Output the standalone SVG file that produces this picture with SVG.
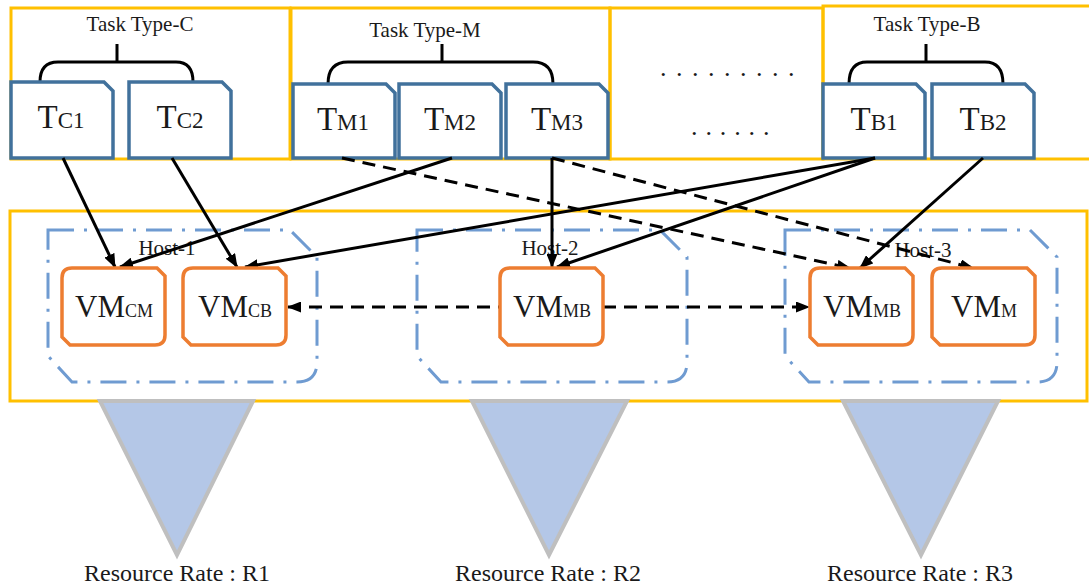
<svg xmlns="http://www.w3.org/2000/svg" width="1089" height="587" viewBox="0 0 1089 587">
<style>
.frame{fill:none;stroke:#FFC000;stroke-width:3}
.task{fill:#fff;stroke:#41719C;stroke-width:3.5;stroke-linejoin:miter}
.vm{fill:#fff;stroke:#ED7D31;stroke-width:3.5}
.host{fill:none;stroke:#6F9BD1;stroke-width:3;stroke-dasharray:26 10 3 10}
.brace{fill:none;stroke:#000;stroke-width:3}
.tri{fill:#B4C7E7;stroke:#BFBFBF;stroke-width:4;stroke-linejoin:miter}
.t{font-family:"Liberation Serif","Times New Roman",serif;fill:#1a1a1a}
.lbl{font-size:21px;text-anchor:middle}
.big{font-size:33px}
.sub{font-size:23px}
.vbig{font-size:31px}
.vsub{font-size:18px}
.rr{font-size:24px;text-anchor:middle}
.c{stroke:#000;stroke-width:3;fill:none}
.d{stroke-dasharray:13 8}
</style>
<defs>
<marker id="ah" viewBox="0 0 14 11" refX="13" refY="5.5" markerWidth="14" markerHeight="11" markerUnits="userSpaceOnUse" orient="auto-start-reverse">
<path d="M0,0 L14,5.5 L0,11 Z" fill="#000"/>
</marker>
</defs>
<rect width="1089" height="587" fill="#fff"/>

<g id="frames">
<rect class="frame" x="11" y="8" width="279" height="151"/>
<rect class="frame" x="291" y="8" width="319" height="151"/>
<rect class="frame" x="610" y="8" width="213" height="151"/>
<rect class="frame" x="823" y="6" width="270" height="153"/>
<rect class="frame" x="10" y="211" width="1077" height="190"/>
</g>

<g id="type-c">
<text class="t lbl" x="140" y="31">Task Type-C</text>
<path class="brace" d="M117,44 V62 M40,82 Q40,62 58,62 H176 Q193,62 193,82"/>
</g>
<g id="type-m">
<text class="t lbl" x="425" y="37">Task Type-M</text>
<path class="brace" d="M442,44 V62 M328,84 Q328,62 348,62 H533 Q553,62 553,84"/>
</g>
<g id="type-b">
<text class="t lbl" x="927" y="31">Task Type-B</text>
<path class="brace" d="M926,44 V62 M849,84 Q849,62 867,62 H985 Q1003,62 1003,84"/>
</g>
<g id="dots">
<text class="t" x="660" y="76" font-size="26" letter-spacing="9.5">.........</text>
<text class="t" x="691" y="135" font-size="26" letter-spacing="7.9">......</text>
</g>

<g id="tc1"><path class="task" d="M11,82 H104 L113,91 V158 H11 Z"/><text class="t" x="61" y="128" text-anchor="middle"><tspan class="big">T</tspan><tspan class="sub">C1</tspan></text></g>
<g id="tc2"><path class="task" d="M129,82 H222 L231,91 V158 H129 Z"/><text class="t" x="180" y="128" text-anchor="middle"><tspan class="big">T</tspan><tspan class="sub">C2</tspan></text></g>
<g id="tm1"><path class="task" d="M293,84 H386 L395,93 V158 H293 Z"/><text class="t" x="343" y="130" text-anchor="middle"><tspan class="big">T</tspan><tspan class="sub">M1</tspan></text></g>
<g id="tm2"><path class="task" d="M399,84 H492 L501,93 V158 H399 Z"/><text class="t" x="450" y="130" text-anchor="middle"><tspan class="big">T</tspan><tspan class="sub">M2</tspan></text></g>
<g id="tm3"><path class="task" d="M506,84 H599 L608,93 V158 H506 Z"/><text class="t" x="557" y="130" text-anchor="middle"><tspan class="big">T</tspan><tspan class="sub">M3</tspan></text></g>
<g id="tb1"><path class="task" d="M823,84 H916 L925,93 V158 H823 Z"/><text class="t" x="874" y="130" text-anchor="middle"><tspan class="big">T</tspan><tspan class="sub">B1</tspan></text></g>
<g id="tb2"><path class="task" d="M932,84 H1025 L1034,93 V158 H932 Z"/><text class="t" x="983" y="130" text-anchor="middle"><tspan class="big">T</tspan><tspan class="sub">B2</tspan></text></g>

<g id="host-1"><path class="host" d="M48,230 H290 L317,257 V362 Q317,382 297,382 H72 L48,356 Z"/><text class="t lbl" x="167" y="255">Host-1</text></g>
<g id="host-2"><path class="host" d="M417,230 H660 L687,257 V362 Q687,382 667,382 H441 L417,356 Z"/><text class="t lbl" x="550" y="255">Host-2</text></g>
<g id="host-3"><path class="host" d="M785,230 H1030 L1057,257 V362 Q1057,382 1037,382 H809 L785,356 Z"/><text class="t lbl" x="923" y="257">Host-3</text></g>

<g id="connectors">
<line class="c" x1="63" y1="158" x2="115" y2="267" marker-end="url(#ah)"/>
<line class="c" x1="172" y1="158" x2="237" y2="267" marker-end="url(#ah)"/>
<line class="c" x1="452" y1="158" x2="120" y2="267" marker-end="url(#ah)"/>
<line class="c" x1="875" y1="158" x2="245" y2="267" marker-end="url(#ah)"/>
<line class="c" x1="552" y1="158" x2="552" y2="267" marker-end="url(#ah)"/>
<line class="c" x1="875" y1="158" x2="557" y2="267" marker-end="url(#ah)"/>
<line class="c" x1="983" y1="158" x2="860" y2="268" marker-end="url(#ah)"/>
<line class="c d" x1="342" y1="158" x2="850" y2="268" marker-end="url(#ah)"/>
<line class="c d" x1="552" y1="158" x2="973" y2="268" marker-end="url(#ah)"/>
<line class="c d" x1="288" y1="307" x2="809" y2="307" marker-start="url(#ah)" marker-end="url(#ah)"/>
</g>

<g id="vm-cm"><path class="vm" d="M72,268 H157 L165,276 V335 Q165,345 155,345 H70 L62,337 V278 Q62,268 72,268 Z"/><text class="t" x="114" y="317" text-anchor="middle"><tspan class="vbig">VM</tspan><tspan class="vsub">CM</tspan></text></g>
<g id="vm-cb"><path class="vm" d="M193,268 H278 L286,276 V335 Q286,345 276,345 H191 L183,337 V278 Q183,268 193,268 Z"/><text class="t" x="235" y="317" text-anchor="middle"><tspan class="vbig">VM</tspan><tspan class="vsub">CB</tspan></text></g>
<g id="vm-mb2"><path class="vm" d="M510,268 H595 L603,276 V335 Q603,345 593,345 H508 L500,337 V278 Q500,268 510,268 Z"/><text class="t" x="552" y="317" text-anchor="middle"><tspan class="vbig">VM</tspan><tspan class="vsub">MB</tspan></text></g>
<g id="vm-mb3"><path class="vm" d="M820,268 H905 L913,276 V335 Q913,345 903,345 H818 L810,337 V278 Q810,268 820,268 Z"/><text class="t" x="862" y="317" text-anchor="middle"><tspan class="vbig">VM</tspan><tspan class="vsub">MB</tspan></text></g>
<g id="vm-m"><path class="vm" d="M942,268 H1027 L1035,276 V335 Q1035,345 1025,345 H940 L932,337 V278 Q932,268 942,268 Z"/><text class="t" x="984" y="317" text-anchor="middle"><tspan class="vbig">VM</tspan><tspan class="vsub">M</tspan></text></g>

<g id="rate-1"><polygon class="tri" points="100,401 253,401 177,555"/><text class="t rr" x="177" y="581">Resource Rate : R1</text></g>
<g id="rate-2"><polygon class="tri" points="472,401 627,401 549,555"/><text class="t rr" x="548" y="581">Resource Rate : R2</text></g>
<g id="rate-3"><polygon class="tri" points="843,401 998,401 921,555"/><text class="t rr" x="920" y="581">Resource Rate : R3</text></g>
</svg>
